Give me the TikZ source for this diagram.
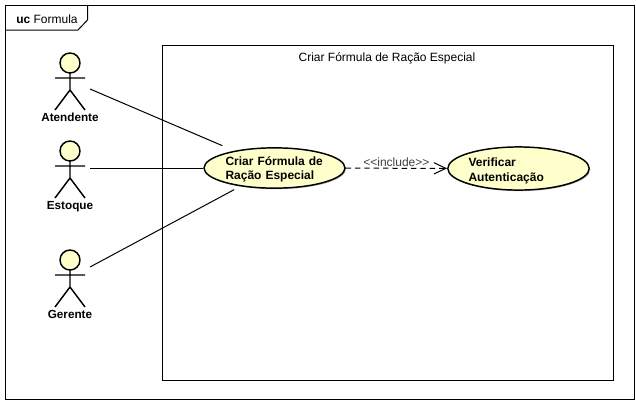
\documentclass[tikz,border=0pt]{standalone}
\usepackage{fontspec}
\setmainfont{Liberation Sans}
\usepackage[svgnames]{xcolor}
\usetikzlibrary{arrows.meta,shapes.geometric,shadows}
\definecolor{ucfill}{HTML}{FFFFCC}
\newcommand{\toppad}[1]{\rule{0pt}{#1}}
\tikzset{
  line/.style={draw,line width=.75pt},
  usecase/.style={draw,ellipse,line width=1.1pt,fill=ucfill,inner sep=0pt,align=left,
    font=\fontsize{9}{11}\selectfont\bfseries,minimum width=105.75pt,minimum height=30pt,
    drop shadow={shadow xshift=.8pt,shadow yshift=-.8pt,opacity=.3,fill=black}},
  pics/actor/.style={code={
    \draw[line width=1.1pt,fill=ucfill] (0,0) circle[radius=7.5pt];
    \draw[line width=1.1pt] (-15,15) -- (15,15) (0,10) -- (0,27) (-15,47) -- (0,27) -- (15,47);
    \node[font=\fontsize{8.8}{11}\selectfont\bfseries,anchor=base] (-label) at (0,58.5) {#1};
  }}
}
\begin{document}
\begin{tikzpicture}[x=.75pt,y=-.75pt]
\useasboundingbox (0,0) rectangle (636,401);
\draw[line] (5.5,5.5) rectangle (634,399);
\draw[line] (5.5,30) -- (78,30) -- (87.5,20) -- (87.5,5.5);
\node[font=\fontsize{9}{11}\selectfont,anchor=west,inner sep=0pt] (frametitle) at (16,19) {\textbf{uc} Formula};
% boundary
\draw[line] (162.5,45.5) rectangle (613,380);
\node[font=\fontsize{9}{11}\selectfont] (boundarytitle) at (387,58) {Criar Fórmula de Ração Especial};
% use cases
\node[usecase,text width=73.5pt] (criar) at (274.5,168) {\toppad{8.5pt}Criar Fórmula de\\Ração Especial};
\node[usecase,text width=75pt,minimum height=31.5pt] (verificar) at (518.5,168.5) {\toppad{10pt}Verificar\\Autenticação};
% actors
\foreach \actorname/\actorlabel/\heady/\porty in
{
atendente/Atendente/63/89,
estoque/Estoque/151/168,
gerente/Gerente/260/267}
{
\pic (\actorname) at (70,\heady) {actor=\actorlabel};
\coordinate (\actorname-port) at (90,\porty);
}
\draw[line,shorten >=9.75pt] (atendente-port) -- (criar);
\draw[line] (estoque-port) -- (criar);
\draw[line,shorten >=5.25pt] (gerente-port) -- (criar);
\draw[line,dash pattern=on 4pt off 3pt,-{Straight Barb[length=9pt,width=8.5pt]}] (criar) -- node[above=-2.5pt,font=\fontsize{9}{11}\selectfont,text=black!75] (includelabel) {<\kern0pt<include>\kern0pt>} (verificar);
\end{tikzpicture}
\end{document}
